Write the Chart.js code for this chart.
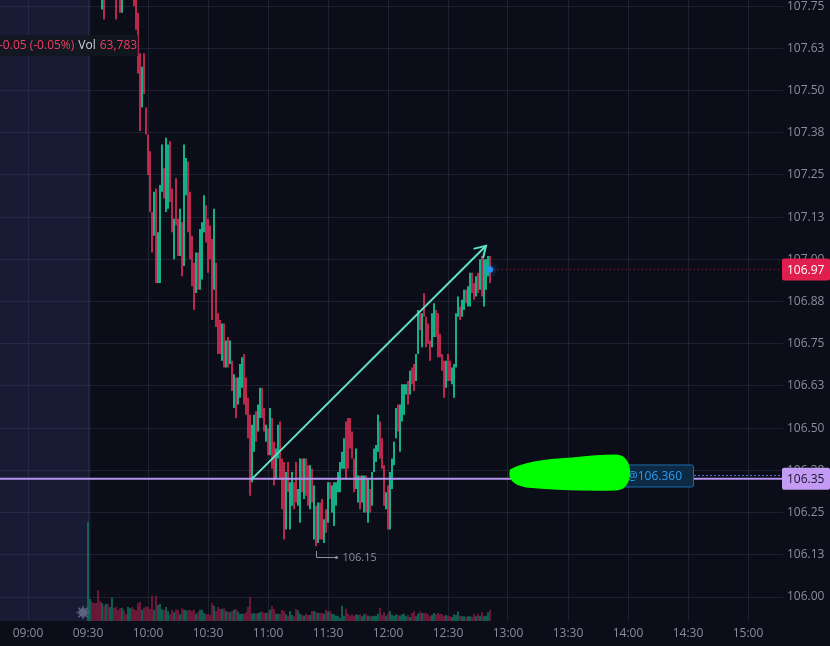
<!DOCTYPE html>
<html>
<head>
<meta charset="utf-8">
<script src="https://cdn.jsdelivr.net/npm/chart.js@4.4.1/dist/chart.umd.min.js"></script>
<style>
  html, body { margin: 0; padding: 0; background: #0b0e19; }
  #wrap { width: 830px; height: 646px; position: relative; }
</style>
</head>
<body>
<div id="wrap"><canvas id="chart"></canvas></div>
<script>
// 1-minute bars from the open
const firstBarTime = '09:30';
const timeTicks = ['09:00', '09:30', '10:00', '10:30', '11:00', '11:30', '12:00', '12:30', '13:00', '13:30', '14:00', '14:30', '15:00'];
const priceTicks = [106.00, 106.125, 106.25, 106.375, 106.50, 106.625, 106.75, 106.875, 107.00, 107.125, 107.25, 107.375, 107.50, 107.625, 107.75];

const highs = [
  108.05, 108.02, 108.00, 107.95, 107.92, 107.90, 107.88, 107.86, 107.85, 107.88,
  107.90, 107.92, 107.95, 107.93, 107.86, 107.84, 107.83, 107.85, 107.87, 107.86,
  107.88, 107.90, 107.88, 107.84, 107.80, 107.73, 107.61, 107.57, 107.61, 107.45,
  107.37, 107.32, 107.14, 107.20, 107.21, 107.08, 107.22, 107.34, 107.27, 107.36,
  107.34, 107.35, 107.21, 107.12, 107.24, 107.12, 107.15, 107.11, 107.34, 107.30,
  107.29, 107.20, 107.07, 106.99, 107.02, 107.02, 107.09, 107.11, 107.19, 107.16,
  107.12, 107.10, 107.06, 107.15, 106.99, 106.84, 106.82, 106.81, 106.81, 106.76,
  106.77, 106.76, 106.70, 106.66, 106.65, 106.65, 106.69, 106.71, 106.72, 106.65,
  106.59, 106.54, 106.51, 106.54, 106.55, 106.57, 106.62, 106.62, 106.56, 106.51,
  106.50, 106.56, 106.53, 106.46, 106.44, 106.51, 106.52, 106.41, 106.40, 106.37,
  106.40, 106.34, 106.37, 106.34, 106.40, 106.32, 106.41, 106.41, 106.41, 106.41,
  106.39, 106.39, 106.38, 106.33, 106.27, 106.28, 106.28, 106.29, 106.23, 106.26,
  106.34, 106.34, 106.33, 106.34, 106.34, 106.37, 106.40, 106.43, 106.47, 106.52,
  106.53, 106.53, 106.49, 106.41, 106.44, 106.36, 106.36, 106.36, 106.36, 106.36,
  106.35, 106.32, 106.37, 106.44, 106.45, 106.54, 106.52, 106.47, 106.39, 106.31,
  106.33, 106.37, 106.41, 106.46, 106.56, 106.57, 106.57, 106.63, 106.63, 106.63,
  106.64, 106.67, 106.68, 106.69, 106.72, 106.85, 106.84, 106.84, 106.90, 106.83,
  106.81, 106.76, 106.84, 106.87, 106.85, 106.84, 106.78, 106.72, 106.70, 106.70,
  106.72, 106.70, 106.68, 106.69, 106.84, 106.89, 106.86, 106.88, 106.91, 106.91,
  106.92, 106.96, 106.96, 106.93, 106.95, 106.96, 107.00, 107.01, 107.00, 107.00,
  107.01, 107.01
];

const lows = [
  107.86, 107.88, 107.84, 107.81, 107.80, 107.78, 107.79, 107.74, 107.71, 107.79,
  107.80, 107.81, 107.83, 107.82, 107.71, 107.78, 107.73, 107.73, 107.79, 107.80,
  107.80, 107.81, 107.78, 107.75, 107.68, 107.55, 107.38, 107.45, 107.49, 107.37,
  107.25, 107.14, 107.02, 107.07, 106.93, 106.93, 106.93, 107.20, 107.18, 107.14,
  107.15, 107.17, 107.08, 107.00, 107.10, 107.01, 107.01, 106.95, 106.98, 107.19,
  107.08, 107.00, 106.92, 106.85, 106.90, 106.91, 106.91, 106.94, 107.08, 107.05,
  106.96, 107.00, 106.82, 106.91, 106.80, 106.72, 106.72, 106.70, 106.68, 106.68,
  106.68, 106.69, 106.61, 106.56, 106.53, 106.57, 106.59, 106.62, 106.57, 106.54,
  106.47, 106.30, 106.34, 106.43, 106.46, 106.49, 106.53, 106.53, 106.49, 106.46,
  106.42, 106.42, 106.38, 106.33, 106.35, 106.41, 106.35, 106.26, 106.17, 106.20,
  106.31, 106.20, 106.27, 106.26, 106.28, 106.27, 106.22, 106.31, 106.29, 106.30,
  106.27, 106.26, 106.28, 106.17, 106.15, 106.16, 106.17, 106.17, 106.16, 106.19,
  106.22, 106.29, 106.25, 106.21, 106.27, 106.31, 106.31, 106.38, 106.38, 106.35,
  106.38, 106.44, 106.41, 106.31, 106.32, 106.28, 106.26, 106.28, 106.25, 106.25,
  106.22, 106.25, 106.27, 106.37, 106.40, 106.43, 106.41, 106.38, 106.27, 106.26,
  106.20, 106.20, 106.32, 106.39, 106.47, 106.49, 106.43, 106.52, 106.54, 106.60,
  106.57, 106.60, 106.63, 106.61, 106.64, 106.72, 106.79, 106.74, 106.83, 106.74,
  106.75, 106.70, 106.74, 106.77, 106.77, 106.71, 106.71, 106.67, 106.59, 106.62,
  106.64, 106.64, 106.63, 106.59, 106.68, 106.83, 106.82, 106.83, 106.85, 106.87,
  106.86, 106.86, 106.90, 106.88, 106.89, 106.90, 106.91, 106.89, 106.86, 106.91,
  106.95, 106.93
];

// u = close above open, d = close below open
const barDirs = [
  'uudddddudu', 'duuddddudd', 'uudddddudd', 'ddduduuudu', 'uddudduduu',
  'dddduduuud', 'dddudddudu', 'dududuuudd', 'dduuduuddu', 'dudduudddu',
  'duudduudud', 'dudududdud', 'uduuuuuuud', 'dddduuduud', 'uduuuudddu',
  'duuuuduuuu', 'dudduududd', 'dduudddddu', 'dduuuuduud', 'uuddududuu',
  'ud'
];

// volume, thousands of shares
const volumesK = [
  559, 124, 109, 102, 102, 175, 113, 102, 86, 98,
  94, 79, 132, 75, 79, 60, 72, 75, 60, 38,
  79, 72, 79, 68, 60, 102, 109, 64, 75, 83,
  79, 68, 143, 64, 143, 90, 98, 68, 60, 79,
  57, 38, 64, 49, 64, 64, 38, 72, 64, 60,
  60, 64, 57, 64, 41, 49, 64, 64, 45, 38,
  38, 34, 102, 86, 57, 79, 68, 68, 72, 57,
  53, 49, 57, 64, 68, 53, 41, 41, 41, 49,
  79, 136, 41, 45, 41, 45, 49, 53, 45, 45,
  49, 64, 83, 68, 41, 41, 41, 64, 57, 38,
  30, 57, 34, 27, 68, 60, 41, 34, 30, 41,
  34, 34, 57, 57, 49, 45, 45, 45, 41, 64,
  53, 57, 41, 38, 30, 30, 19, 86, 30, 68,
  41, 30, 38, 30, 38, 34, 38, 27, 38, 41,
  30, 30, 27, 30, 30, 41, 75, 34, 49, 30,
  41, 57, 34, 30, 38, 34, 30, 38, 41, 27,
  34, 23, 45, 57, 27, 41, 53, 45, 45, 45,
  38, 27, 34, 45, 38, 45, 41, 38, 30, 34,
  30, 27, 23, 38, 34, 53, 30, 27, 27, 23,
  27, 27, 23, 41, 27, 41, 30, 49, 27, 30,
  49, 63.783
];

const lastClose = 106.97;
const levelPrice = 106.35;
const orderPrice = 106.36;
const changeText = '-0.05 (-0.05%)';
const arrowFrom = { t: '10:52', p: 106.35 };
const arrowTo = { t: '12:49', p: 107.04 };
const orderLabelTime = '13:57';

// visible window
const viewFrom = 526, viewTo = 917.5;
const priceMin = 105.929, priceMax = 107.768;
const volMaxK = 3506;

///////////////////////////////////////////

const toMin = s => { const [h, m] = s.split(':').map(Number); return h * 60 + m; };
const fmtTime = m => String(Math.floor(m / 60)).padStart(2, '0') + ':' + String(m % 60).padStart(2, '0');

const RED = '#f5325c', TEAL = '#19e6ad';
const VRED = '#8a1d42', VTEAL = '#137662';
const GRID = 'rgba(62,67,92,0.38)';
const TXT = '#8a8e9c';
const FONT = "'Open Sans', sans-serif";

const start = toMin(firstBarTime);
const barTimes = highs.map((_, i) => start + i);
const dirs = barDirs.join('').split('');

const candleData = barTimes.map((t, i) => ({ x: t, y: [lows[i], highs[i]] }));
const volData = barTimes.map((t, i) => ({ x: t, y: volumesK[i] }));

function noPad(s) {
  s.paddingLeft = 0; s.paddingRight = 0; s.paddingTop = 0; s.paddingBottom = 0;
}

const bgPlugin = {
  id: 'bg',
  beforeDraw(chart) {
    const { ctx, chartArea: a, scales: { x } } = chart;
    ctx.save();
    ctx.fillStyle = '#0b0e19';
    ctx.fillRect(0, 0, chart.width, chart.height);
    // pre-market shading
    ctx.fillStyle = '#181b34';
    ctx.fillRect(a.left, a.top, x.getPixelForValue(start) + 2.5 - a.left, a.bottom - a.top);
    ctx.restore();
  }
};

const overlayPlugin = {
  id: 'overlay',
  afterDraw(chart) {
    const { ctx, chartArea: a, scales: { x, y } } = chart;
    ctx.save();
    ctx.beginPath();
    ctx.rect(a.left, a.top, a.right - a.left, a.bottom - a.top);
    ctx.clip();

    // horizontal level
    const yl = y.getPixelForValue(levelPrice);
    ctx.strokeStyle = '#b594ee';
    ctx.lineWidth = 2;
    ctx.beginPath(); ctx.moveTo(a.left, yl); ctx.lineTo(a.right, yl); ctx.stroke();

    // last price line
    const lastX = x.getPixelForValue(barTimes[barTimes.length - 1]);
    const yc = y.getPixelForValue(lastClose);
    ctx.strokeStyle = 'rgba(242,54,90,0.55)';
    ctx.lineWidth = 1;
    ctx.setLineDash([1, 3]);
    ctx.beginPath(); ctx.moveTo(lastX, Math.round(yc) + 0.5); ctx.lineTo(a.right, Math.round(yc) + 0.5); ctx.stroke();

    // order line + label
    const yo = y.getPixelForValue(orderPrice);
    const L = x.getPixelForValue(toMin(orderLabelTime));
    ctx.strokeStyle = 'rgba(90,130,230,0.9)';
    ctx.setLineDash([2, 2]);
    ctx.beginPath(); ctx.moveTo(L + 72, Math.round(yo) + 0.5); ctx.lineTo(a.right, Math.round(yo) + 0.5); ctx.stroke();
    ctx.setLineDash([]);
    ctx.fillStyle = '#0c2a44';
    ctx.strokeStyle = '#1d6aa8';
    ctx.beginPath(); ctx.roundRect(L + 0.5, yo - 10.5, 71, 22, 2); ctx.fill(); ctx.stroke();
    ctx.fillStyle = '#2b9cf2';
    ctx.font = '12px ' + FONT;
    ctx.textBaseline = 'middle';
    ctx.textAlign = 'left';
    ctx.fillText('@' + orderPrice.toFixed(3), L + 5, yo + 1);

    // green scribble over the label
    ctx.fillStyle = '#00ff00';
    ctx.beginPath();
    ctx.moveTo(L - 112, yo - 6);
    ctx.quadraticCurveTo(L - 95, yo - 16, L - 50, yo - 18);
    ctx.quadraticCurveTo(L - 25, yo - 21, L - 6, yo - 21);
    ctx.bezierCurveTo(L + 13, yo - 21, L + 13, yo + 15, L - 6, yo + 15);
    ctx.quadraticCurveTo(L - 50, yo + 16, L - 96, yo + 12);
    ctx.quadraticCurveTo(L - 116, yo + 8, L - 112, yo - 6);
    ctx.fill();

    // trend arrow
    const ax0 = x.getPixelForValue(toMin(arrowFrom.t)), ay0 = y.getPixelForValue(arrowFrom.p);
    const ax1 = x.getPixelForValue(toMin(arrowTo.t)), ay1 = y.getPixelForValue(arrowTo.p);
    const ang = Math.atan2(ay1 - ay0, ax1 - ax0);
    ctx.strokeStyle = '#5fe1c8';
    ctx.lineWidth = 2;
    ctx.lineCap = 'round';
    ctx.beginPath(); ctx.moveTo(ax0, ay0); ctx.lineTo(ax1, ay1); ctx.stroke();
    ctx.beginPath();
    ctx.moveTo(ax1 - 12 * Math.cos(ang - 0.55), ay1 - 12 * Math.sin(ang - 0.55));
    ctx.lineTo(ax1, ay1);
    ctx.lineTo(ax1 - 12 * Math.cos(ang + 0.55), ay1 - 12 * Math.sin(ang + 0.55));
    ctx.stroke();

    // last price dot
    ctx.shadowColor = 'rgba(30,150,255,0.9)';
    ctx.shadowBlur = 6;
    ctx.fillStyle = '#1e96ff';
    ctx.beginPath(); ctx.arc(lastX, yc, 3, 0, Math.PI * 2); ctx.fill();
    ctx.shadowBlur = 0;

    // session low marker
    let lo = 0;
    lows.forEach((v, i) => { if (v < lows[lo]) lo = i; });
    const lx = Math.round(x.getPixelForValue(barTimes[lo])) + 0.5;
    const ly = Math.round(y.getPixelForValue(lows[lo]));
    ctx.strokeStyle = TXT;
    ctx.lineWidth = 1;
    ctx.lineCap = 'butt';
    ctx.beginPath(); ctx.moveTo(lx, ly + 5); ctx.lineTo(lx, ly + 11.5); ctx.lineTo(lx + 20, ly + 11.5); ctx.stroke();
    ctx.fillStyle = TXT;
    ctx.beginPath(); ctx.arc(lx + 20, ly + 11.5, 1.6, 0, Math.PI * 2); ctx.fill();
    ctx.font = '11px ' + FONT;
    ctx.fillText(lows[lo].toFixed(2), lx + 26, ly + 12);

    // session marker icon
    const gx = x.getPixelForValue(start) - 5, gy = a.bottom - 8.5;
    ctx.fillStyle = '#5c6182';
    ctx.beginPath(); ctx.arc(gx, gy, 4.5, 0, Math.PI * 2); ctx.fill();
    for (let k = 0; k < 8; k++) {
      const t = k * Math.PI / 4;
      ctx.beginPath(); ctx.arc(gx + 5.5 * Math.cos(t), gy + 5.5 * Math.sin(t), 1, 0, Math.PI * 2); ctx.fill();
    }

    // legend strip
    ctx.font = '12px ' + FONT;
    const volText = Math.round(volumesK[volumesK.length - 1] * 1000).toLocaleString('en-US');
    const w1 = ctx.measureText(changeText).width;
    const w2 = ctx.measureText('Vol').width;
    const w3 = ctx.measureText(volText).width;
    const lx0 = -1, ty = 46;
    ctx.fillStyle = 'rgba(19,22,31,0.85)';
    ctx.fillRect(0, 35, lx0 + w1 + 4 + w2 + 4 + w3 + 1, 21);
    ctx.fillStyle = '#f23d63';
    ctx.fillText(changeText, lx0, ty);
    ctx.fillStyle = '#d1d4dc';
    ctx.fillText('Vol', lx0 + w1 + 4, ty);
    ctx.fillStyle = '#f23d63';
    ctx.fillText(volText, lx0 + w1 + 4 + w2 + 4, ty);
    ctx.restore();

    // price axis labels
    ctx.save();
    ctx.font = '12px ' + FONT;
    ctx.textBaseline = 'middle';
    ctx.textAlign = 'left';
    ctx.fillStyle = '#e11f4f';
    ctx.beginPath(); ctx.roundRect(a.right - 1, yc - 11, 48, 22, 2); ctx.fill();
    ctx.fillStyle = '#ffffff';
    ctx.fillText(lastClose.toFixed(2), a.right + 4, yc + 1);
    ctx.fillStyle = '#c39bf5';
    ctx.beginPath(); ctx.roundRect(a.right - 1, yl - 11, 48, 22, 2); ctx.fill();
    ctx.fillStyle = '#17152a';
    ctx.fillText(levelPrice.toFixed(2), a.right + 4, yl + 1);
    ctx.restore();
  }
};

new Chart(document.getElementById('chart'), {
  type: 'bar',
  data: {
    datasets: [
      {
        label: 'Price',
        data: candleData,
        backgroundColor: dirs.map(d => d === 'u' ? TEAL : RED),
        barThickness: 1.5,
        inflateAmount: 0,
        grouped: false,
        order: 1,
        yAxisID: 'y',
      },
      {
        label: 'Volume',
        data: volData,
        backgroundColor: dirs.map(d => d === 'u' ? VTEAL : VRED),
        barThickness: 1.5,
        inflateAmount: 0,
        grouped: false,
        order: 2,
        yAxisID: 'v',
      },
    ],
  },
  options: {
    responsive: true,
    maintainAspectRatio: false,
    animation: false,
    layout: { padding: 0 },
    plugins: { legend: { display: false }, tooltip: { enabled: false } },
    scales: {
      x: {
        type: 'linear',
        offset: false,
        min: viewFrom,
        max: viewTo,
        grid: { color: GRID, drawTicks: false, offset: false },
        border: { display: false },
        afterBuildTicks: s => { s.ticks = timeTicks.map(t => ({ value: toMin(t) })); },
        afterFit: s => { s.height = 25; noPad(s); },
        ticks: {
          autoSkip: false, maxRotation: 0, padding: 5, color: TXT,
          font: { family: FONT, size: 12 },
          callback: v => fmtTime(v),
        },
      },
      y: {
        position: 'right',
        min: priceMin,
        max: priceMax,
        grid: { color: GRID, drawTicks: false },
        border: { display: false },
        afterBuildTicks: s => { s.ticks = priceTicks.map(v => ({ value: v })); },
        afterFit: s => { s.width = 47; noPad(s); },
        ticks: {
          autoSkip: false, padding: 4, color: TXT,
          font: { family: FONT, size: 12 },
          callback: v => v.toFixed(2),
        },
      },
      v: { display: false, min: 0, max: volMaxK },
    },
  },
  plugins: [bgPlugin, overlayPlugin],
});
</script>
</body>
</html>
